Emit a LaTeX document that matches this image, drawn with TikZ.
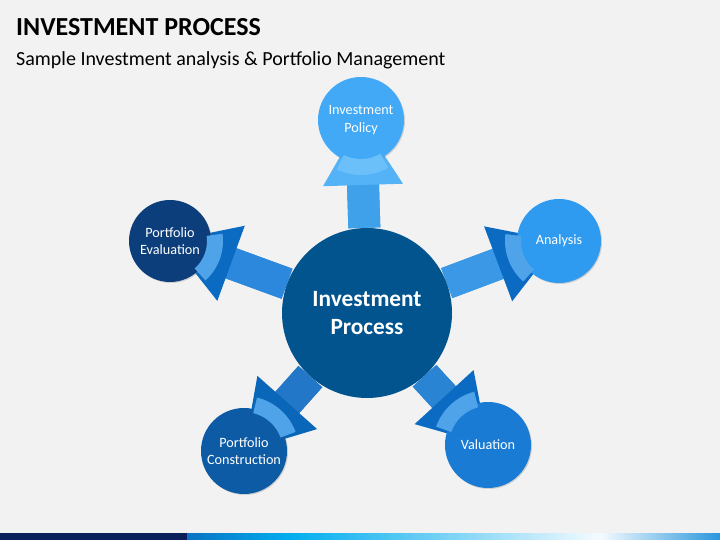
\documentclass[tikz,border=0pt]{standalone}
\usepackage{fontspec}
\setmainfont{Carlito}
\usetikzlibrary{arrows.meta,backgrounds,shadows}

\definecolor{bgGray}{HTML}{F2F2F2}
\definecolor{hubBlue}{HTML}{02548F}
\definecolor{policyBlue}{HTML}{41A9F5}
\definecolor{analysisBlue}{HTML}{2E9AF0}
\definecolor{evalNavy}{HTML}{0B3E7B}
\definecolor{constructBlue}{HTML}{0D5BA4}
\definecolor{valuationBlue}{HTML}{1A7BD4}
\definecolor{headBlue}{HTML}{0B6BC2}
\definecolor{shaftA}{HTML}{3A98E6}
\definecolor{shaftE}{HTML}{2C88DC}
\definecolor{shaftC}{HTML}{2277C8}
\definecolor{shaftV}{HTML}{2A84D4}
\definecolor{cupLight}{HTML}{6CC0F9}
\definecolor{cupBlue}{HTML}{4FA3E8}
\definecolor{footNavy}{HTML}{0B1F5B}
\definecolor{footB}{HTML}{0B72C2}
\definecolor{footC}{HTML}{00AEEF}
\definecolor{footD}{HTML}{6CCEF4}
\definecolor{footE}{HTML}{F5FBFF}
\definecolor{footF}{HTML}{2A96DC}

\tikzset{
  hubcircle/.style={circle, fill=hubBlue, minimum size=170pt, inner sep=0pt,
    text=white, align=center, font=\bfseries\fontsize{23.3}{28}\selectfont},
  satcircle/.style={circle, fill=#1, inner sep=0pt,
    text=white, align=center, font=\fontsize{14.2}{17.5}\selectfont,
    drop shadow={shadow xshift=1pt, shadow yshift=-1pt, opacity=0.3}},
  flow/.style={draw=#1, line width=32pt},
  flowtip/.tip={Triangle[length=65pt, width=80pt, line width=0pt]},
}

\begin{document}
\begin{tikzpicture}[x=1pt,y=1pt]

\useasboundingbox (0,0) rectangle (720,540);

% title
\node[anchor=base west, inner sep=0pt, font=\bfseries\fontsize{26}{30}\selectfont] (title) at (16,504) {INVESTMENT PROCESS};
\node[anchor=base west, inner sep=0pt, font=\fontsize{20}{24}\selectfont] (subtitle) at (16,474) {Sample Investment analysis \& Portfolio Management};

% circles
\node[hubcircle] (hub) at (367,227) {Investment\\Process};
\node[satcircle=policyBlue, minimum size=86pt] (policy) at (361,420) {Investment\\Policy};
\node[satcircle=analysisBlue, minimum size=84pt] (analysis) at (559,299) {Analysis};
\node[satcircle=evalNavy, minimum size=82pt] (evaluation) at (170,299) {Portfolio\\Evaluation};
\node[satcircle=constructBlue, minimum size=86pt] (construction) at (244,89) {Portfolio\\Construction};
\node[satcircle=valuationBlue, minimum size=86pt] (valuation) at (488,95) {Valuation};

% arrows behind the circles
\begin{pgfonlayer}{background}
\fill[bgGray] (0,0) rectangle (720,540);
% shafts
\draw[flow=policyBlue!95!black, shorten >=55pt] (hub) -- (policy.center);
\draw[flow=shaftA, shorten >=55pt] (hub) -- (analysis.center);
\draw[flow=shaftE, shorten >=55pt] (hub) -- (evaluation.center);
\draw[flow=shaftC, shorten >=55pt] (hub) -- (construction.center);
\draw[flow=shaftV, shorten >=55pt] (hub) -- (valuation.center);
% heads
\draw[flow=policyBlue!95!black, -{flowtip[color=policyBlue!90!white]}] (hub) -- (policy.center);
\draw[flow=shaftA, -{flowtip[color=headBlue]}] (hub) -- (analysis.center);
\draw[flow=shaftE, -{flowtip[color=headBlue]}] (hub) -- (evaluation.center);
\draw[flow=shaftC, -{flowtip[color=headBlue!95!black]}] (hub) -- (construction.center);
\draw[flow=shaftV, -{flowtip[color=headBlue]}] (hub) -- (valuation.center);
\end{pgfonlayer}

% cups of the arrow heads
\foreach \n/\a/\r/\c in {policy/271.8/43/cupLight, analysis/200.6/42/cupBlue,
    evaluation/339.9/41/cupBlue, construction/48.3/43/cupBlue, valuation/132.5/43/cupBlue} {
  \fill[\c] ([shift={(\a-28:\r pt-4pt)}]\n.center) arc[start angle=\a-28, end angle=\a+28, radius=\r pt-4pt]
    -- ([shift={(\a+28:\r pt+12pt)}]\n.center) arc[start angle=\a+28, end angle=\a-28, radius=\r pt+12pt] -- cycle;
}

% footer bar
\fill[footNavy] (0,0) rectangle (187,6.5);
\foreach \xa/\xb/\ca/\cb in {187/290/footB/footC, 290/430/footC/footD, 430/600/footD/footE, 600/720/footE/footF} {
  \shade[left color=\ca, right color=\cb] (\xa,0) rectangle (\xb,6.5);
}

\end{tikzpicture}
\end{document}
